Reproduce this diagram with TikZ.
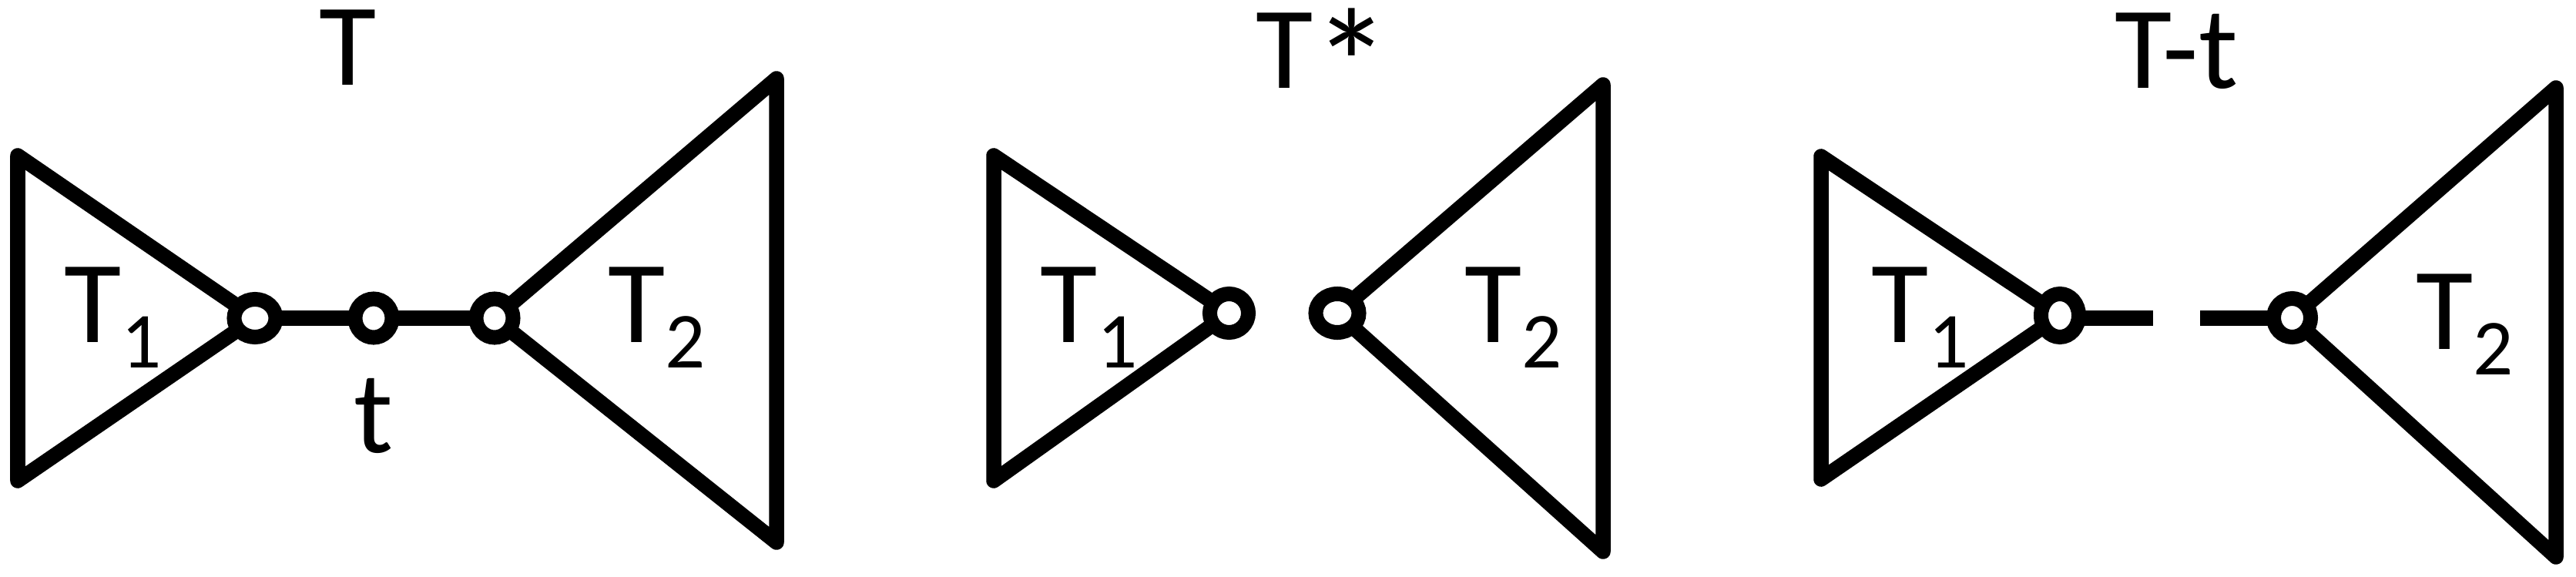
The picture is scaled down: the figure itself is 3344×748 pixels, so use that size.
\documentclass[tikz,border=0pt]{standalone}
\usepackage{fontspec}
\setmainfont{Carlito}
\usetikzlibrary{shapes.geometric,backgrounds}
\newcommand{\mybigfont}{\fontsize{43.25pt}{50pt}\selectfont}
\newcommand{\mysubfont}{\fontsize{29.3pt}{34pt}\selectfont}
\newcommand{\Tsub}[1]{T\raisebox{-0.33cm}{\mysubfont #1}}
\newcommand{\bigast}{\raisebox{-0.4cm}{\scalebox{1.33}{*}}}
\begin{document}
\begin{tikzpicture}[x=0.01cm,y=-0.01cm,
  edge/.style={line width=0.195cm, line join=round, line cap=butt},
  ring/.style 2 args={ellipse, draw, fill=white, inner sep=0pt, line width=0.19cm,
    minimum width=#1, minimum height=#2},
  lbl/.style={anchor=base west, inner sep=0pt, font=\mybigfont},
  ttl/.style={lbl, text height=0.97cm, text depth=0pt}]
\useasboundingbox (0,0) rectangle (3344,748);

% ---------- panel 1 : T ----------
\node[ring={0.54cm}{0.49cm}] (c1) at (331,413) {};
\node[ring={0.48cm}{0.50cm}] (c2) at (485,413) {};
\node[ring={0.48cm}{0.50cm}] (c3) at (642,413) {};
\coordinate (a1) at (23,202);
\coordinate (a2) at (23,624);
\coordinate (b1) at (1008,102);
\coordinate (b2) at (1008,704);
\node[ttl] (title1) at (414,110) {T};
\node[lbl] (t1a) at (83,444) {\Tsub{1}};
\node[lbl] (t1b) at (789,444) {\Tsub{2}};
\node[lbl] (tlab) at (459,587) {t};

% ---------- panel 2 : T* ----------
\node[ring={0.50cm}{0.50cm}] (d1) at (1595.5,406.5) {};
\node[ring={0.56cm}{0.50cm}] (d2) at (1736,406.5) {};
\coordinate (f1) at (1290,202);
\coordinate (f2) at (1290,624);
\coordinate (g1) at (2081,110);
\coordinate (g2) at (2081,716);
\node[ttl] (title2) at (1630,114) {T\bigast};
\node[lbl] (t2a) at (1350,444) {\Tsub{1}};
\node[lbl] (t2b) at (1901,444) {\Tsub{2}};

% ---------- panel 3 : T-t ----------
\node[ring={0.49cm}{0.56cm}] (e1) at (2674,409.5) {};
\node[ring={0.48cm}{0.50cm}] (e2) at (2975.5,412.5) {};
\coordinate (h1) at (2364,203);
\coordinate (h2) at (2364,622);
\coordinate (k1) at (3318,114);
\coordinate (k2) at (3318,723);
\coordinate (s1) at (2795,413);
\coordinate (s2) at (2856,413);
\node[ttl] (title3) at (2745,114) {T-t};
\node[lbl] (t3a) at (2429,444) {\Tsub{1}};
\node[lbl] (t3b) at (3136,453) {\Tsub{2}};

\begin{pgfonlayer}{background}
  \draw[edge] (a1) -- (a2) -- (c1.center) -- cycle;
  \draw[edge] (b1) -- (b2) -- (c3.center) -- cycle;
  \draw[edge] (c1.center) -- (c2.center) -- (c3.center);
  \draw[edge] (f1) -- (f2) -- (d1.center) -- cycle;
  \draw[edge] (g1) -- (g2) -- (d2.center) -- cycle;
  \draw[edge] (h1) -- (h2) -- (e1.center) -- cycle;
  \draw[edge] (k1) -- (k2) -- (e2.center) -- cycle;
  \draw[edge] (e1.center |- s1) -- (s1);
  \draw[edge] (s2) -- (e2.center |- s2);
\end{pgfonlayer}
\end{tikzpicture}
\end{document}
